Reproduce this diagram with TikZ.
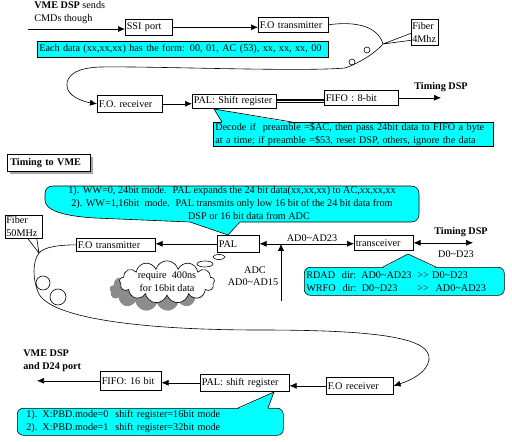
\documentclass[tikz,border=0pt]{standalone}
\usepackage{fontspec}
\setmainfont{Liberation Serif}
\usetikzlibrary{arrows.meta,shapes.symbols,shadows}
\definecolor{callcyan}{RGB}{0,255,255}
\newcommand{\tld}{\textasciitilde}
\newcommand{\dgt}{>\kern0pt>}
\begin{document}
\begin{tikzpicture}[x=1pt, y=-1pt, line width=0.6pt, >={Latex[length=7pt,width=6pt]},
    font=\fontsize{10.2}{13}\selectfont,
    blk/.style={draw, fill=white, anchor=north west, inner xsep=1.5pt, inner ysep=0pt,
        text width=#1, minimum height=15pt, align=left},
    callout/.style={draw, fill=callcyan, anchor=north west, inner xsep=2pt, inner ysep=0pt}]
\useasboundingbox (0,0) rectangle (512,442);

% --- VME DSP -> fiber -> Timing DSP
\node[anchor=north west, inner sep=0pt, align=left] (sendtxt) at (34,1) {\textbf{VME DSP} sends\\CMDs though};
\node[blk=44pt, minimum height=16pt] (ssi) at (125,19) {SSI port};
\node[blk=67pt] (fotx1) at (258,17) {F.O transmitter};
\node[blk=25pt, minimum height=26pt, inner xsep=1pt] (fib1) at (411,19) {Fiber\\4Mhz};
\node[callout, text width=287pt, minimum height=16pt] (form) at (37,41) {Each data (xx,xx,xx) has the form: 00, 01, AC (53), xx, xx, xx, 00};
\node[blk=62pt, minimum height=17pt] (forx1) at (97,95) {F.O. receiver};
\node[blk=81pt, minimum height=14pt] (palsr) at (192,94) {PAL: Shift register};
\node[blk=71pt] (fifo8) at (324,90) {FIFO : 8-bit};
\node[font=\fontsize{10.2}{13}\selectfont\bfseries] (tdsp1) at (441,87) {Timing DSP};
\coordinate (dspin) at (441,99);
\coordinate (cmdin) at (28,29);
\coordinate (fj1) at (383,44);

\draw[->] (cmdin) -- (cmdin -| ssi.west);
\draw[->] (ssi.east) -- (ssi.east -| fotx1.west);
\draw (fotx1.east) .. controls (355,21) and (378,26) .. (fj1);
\draw (fj1) -- ([yshift=-1pt]fib1.west) (fj1) -- ([yshift=-8pt]fib1.west);
\draw[->] (fj1) .. controls (376,52) and (362,62) .. (345,68) .. controls (300,72) and (150,66) .. (100,67)
    .. controls (70,68) and (64,80) .. (68,90) .. controls (72,98) and (85,102) .. (forx1.west);
\draw (367,50) circle[radius=3pt] (352,62) circle[radius=3pt];
\draw[->] (forx1.east) -- (forx1.east -| palsr.west);
\draw[double, double distance=1pt, line width=1.6pt] (palsr.east) -- (palsr.east -| fifo8.west);
\draw[->] (fifo8.east) -- (fifo8.east -| dspin);

\node[callout, text width=276pt, minimum height=24pt, align=left] (decode) at (213,122)
    {Decode if~ preamble =\$AC, then pass 24bit data to FIFO a byte\\at a time; if preamble =\$53, reset DSP, others, ignore the data};
\fill[callcyan] (222,123) -- (214,109) -- (292,123) -- cycle;
\draw (222,122) -- (214,109) -- (292,122);

% --- Timing to VME
\node[draw, fill=white, anchor=north west, inner xsep=3pt, inner ysep=0pt, minimum width=83pt, minimum height=17pt,
    font=\fontsize{10.2}{13}\selectfont\bfseries, text width=77pt,
    drop shadow={fill=gray!70, opacity=1, shadow xshift=3pt, shadow yshift=-3pt}] (tvme) at (7,154) {Timing to VME};

\draw[fill=callcyan] (53,186) -- (411,186) .. controls (416,186) and (419,189) .. (419,194) -- (419,214)
    .. controls (419,219) and (416,222) .. (411,222) -- (240,222) -- (228,235) -- (190,222) -- (95,218)
    .. controls (62,216) and (45,210) .. (45,200) -- (45,194) .. controls (45,189) and (48,186) .. (53,186) -- cycle;
\node[inner sep=0pt, align=center] (wwnote) at (232,203)
    {1). WW=0, 24bit mode.~ PAL expands the 24 bit data(xx,xx,xx) to AC,xx,xx,xx\\
     2). WW=1,16bit~ mode.~ PAL transmits only low 16 bit of the 24 bit data from\\
     \hspace*{34pt}DSP or 16 bit data from ADC};

\node[blk=35pt, minimum height=23pt, inner xsep=1pt] (fib2) at (5,215) {Fiber\\50MHz};
\node[blk=76pt, minimum height=13pt] (fotx2) at (76,238) {F.O transmitter};
\node[blk=39pt, minimum height=17pt] (pal) at (217,235) {PAL};
\node[blk=56pt] (trx) at (354,235) {transceiver};
\node (lad23) at (312,238) {AD0\tld AD23};
\node[font=\fontsize{10.2}{13}\selectfont\bfseries] (tdsp2) at (461,232) {Timing DSP};
\node (ld23) at (456,254) {D0\tld D23};
\node (ladc) at (255,270) {ADC};
\node (lad15) at (253,282) {AD0\tld AD15};
\coordinate (dspio) at (473,243);
\coordinate (adcbot) at (281,301);
\coordinate (fj2) at (39,253);

\draw[->] (pal.west) -- (pal.west -| fotx2.east);
\draw[<->] (pal.east) -- (pal.east -| trx.west);
\draw[->] (adcbot) -- (adcbot |- pal.east);
\draw[<->] (trx.east) -- (trx.east -| dspio);

\node[cloud, cloud puffs=13, cloud ignores aspect, draw, fill=white, minimum width=95pt, minimum height=30pt,
    inner sep=0pt, align=center,
    drop shadow={fill=gray!90, opacity=1, shadow xshift=-10pt, shadow yshift=-8pt}] (note400) at (167,282)
    {require~ 400ns\\for 16bit data};
\draw[fill=white] (205,264) ellipse[x radius=8pt, y radius=3pt];
\draw[fill=white] (219,257) ellipse[x radius=6pt, y radius=2.5pt];

\node[callout, rounded corners=6pt, text width=196pt, minimum height=28pt, align=left] (rdad) at (304,267)
    {\makebox[111pt][l]{RDAD~ dir: AD0\tld AD23}\dgt{} D0\tld D23\\
     \makebox[111pt][l]{WRFO~ dir: D0\tld D23}\dgt~ AD0\tld AD23};
\fill[callcyan] (383,268) -- (408,254) -- (436,268) -- cycle;
\draw (383,267) -- (408,254) -- (436,267);

% --- back to VME DSP
\node[anchor=north west, inner sep=0pt, align=left, font=\fontsize{10.2}{13}\selectfont\bfseries] (vmetxt) at (23,349)
    {VME DSP\\and D24 port};
\node[blk=58pt, minimum height=19pt] (fifo16) at (100,371) {FIFO: 16 bit};
\node[blk=86pt, minimum height=17pt] (palsr2) at (200,374) {PAL: shift register};
\node[blk=64pt, minimum height=17pt] (forx2) at (326,377) {F.O receiver};
\coordinate (vmeout) at (37,382);

\draw (fotx2.west) .. controls (58,245) and (44,247) .. (fj2);
\draw ([xshift=4pt]fib2.south) -- (fj2) ([xshift=13pt]fib2.south) -- (fj2);
\draw[->] (fj2) .. controls (32,262) and (33,280) .. (38,292) .. controls (48,318) and (140,330) .. (260,330)
    .. controls (380,330) and (432,338) .. (429,360) .. controls (427,372) and (412,380) .. (forx2.east);
\draw (43,283) circle[radius=7pt] (58,297) circle[radius=8pt];

\draw[->] (forx2.west) -- (forx2.west -| palsr2.east);
\draw[->] (palsr2.west) -- (palsr2.west -| fifo16.east);
\draw[->] (fifo16.west) -- (fifo16.west -| vmeout);

\node[callout, rounded corners=6pt, inner xsep=9pt, text width=248pt, minimum height=27pt, align=left] (xpbd) at (17,408)
    {1). X:PBD.mode=0~ shift register=16bit mode\\2). X:PBD.mode=1~ shift register=32bit mode};
\fill[callcyan] (238,409) -- (274,392) -- (268,409) -- cycle;
\draw (238,408) -- (274,392) -- (268,408);
\end{tikzpicture}
\end{document}
